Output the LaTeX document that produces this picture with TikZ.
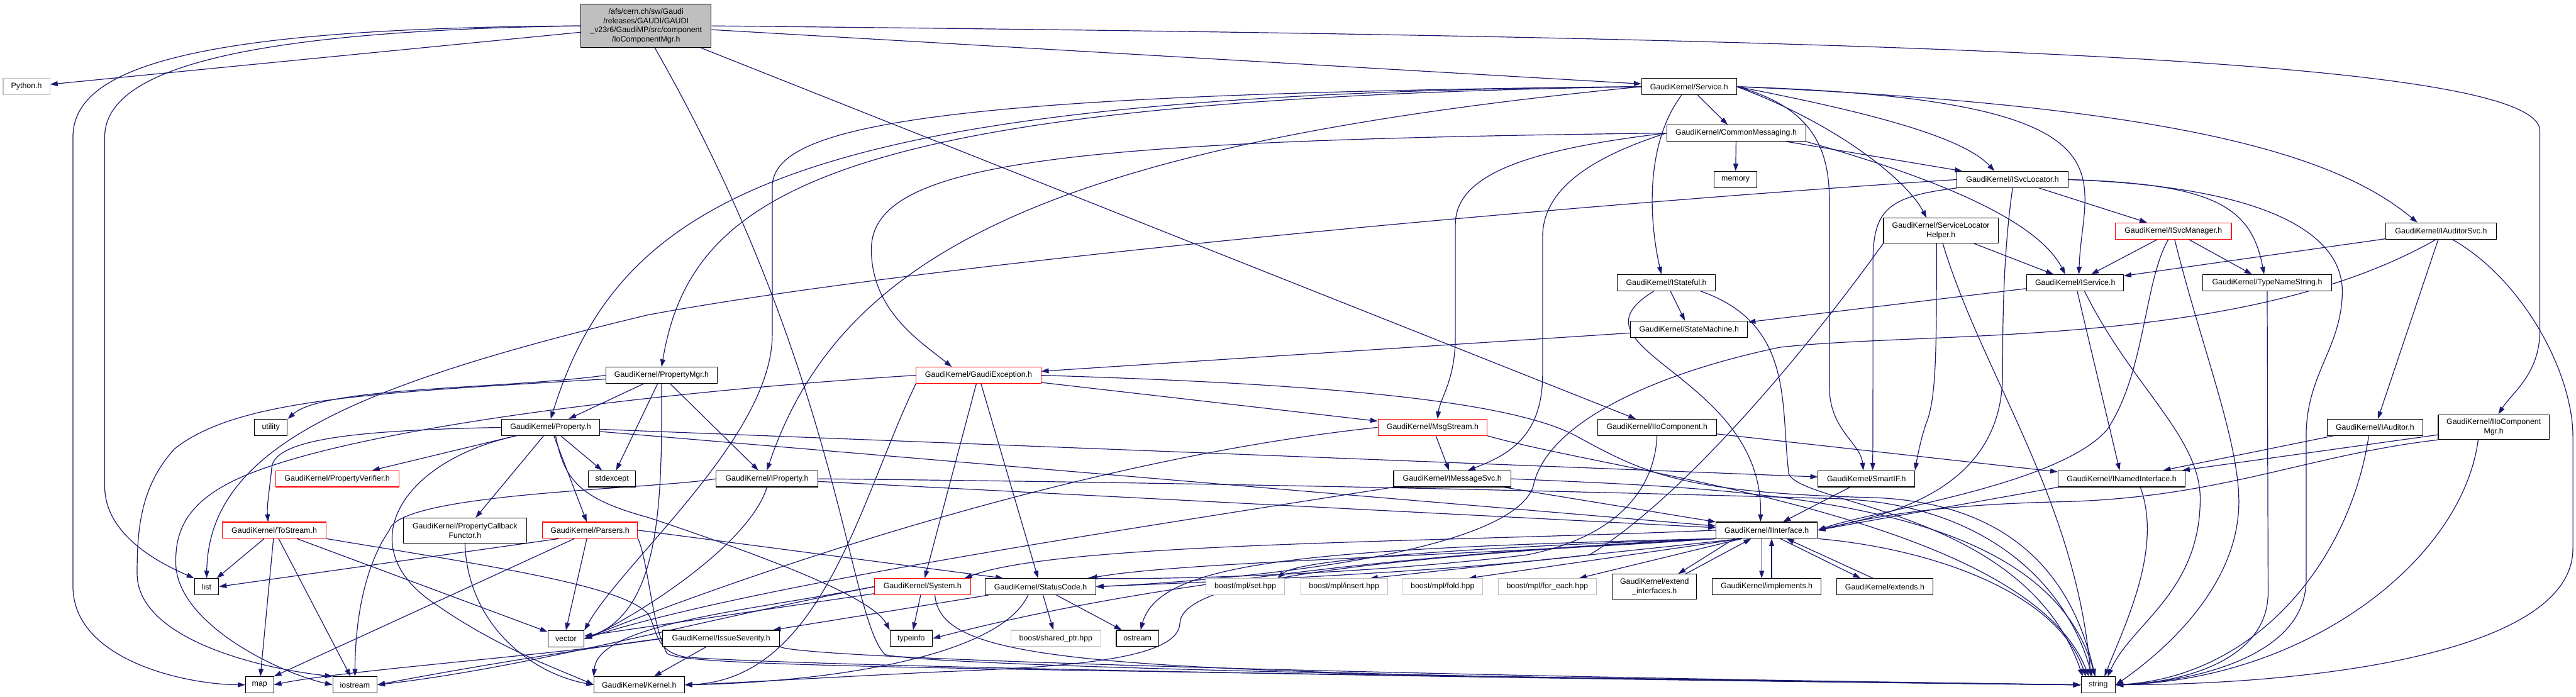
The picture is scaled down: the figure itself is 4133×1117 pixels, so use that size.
\documentclass[tikz,border=0pt]{standalone}
\usepackage{fontspec}
\setmainfont{Liberation Sans}
\usetikzlibrary{arrows.meta}
\definecolor{edgec}{HTML}{191970}
\definecolor{rootfill}{HTML}{BFBFBF}
\definecolor{grayb}{HTML}{BFBFBF}
\definecolor{redb}{HTML}{FF0000}
\pgfdeclarelayer{bg}
\pgfsetlayers{bg,main}
\begin{document}
\begin{tikzpicture}[x=1pt,y=-1pt,
  nd/.style={draw=black, line width=1.1pt, fill=white, inner sep=0pt, align=center,
    font=\fontsize{12.5}{14.7}\selectfont},
  rd/.style={nd, draw=redb},
  gd/.style={nd, draw=grayb},
  edg/.style={draw=edgec, line width=1.2pt, -{Triangle[length=12pt,width=8pt]}}]
\begin{pgfonlayer}{bg}
\fill[white] (0,0) rectangle (4133,1117);
\end{pgfonlayer}
\useasboundingbox (0,0) rectangle (4133,1117);
% ---------------- nodes ----------------
\node[nd, fill=rootfill, minimum width=209, minimum height=69] (R) at (1036.5,41.5) {/afs/cern.ch/sw/Gaudi\\/releases/GAUDI/GAUDI\\\_v23r6/GaudiMP/src/component\\/IoComponentMgr.h};
\node[gd, minimum width=75, minimum height=26] (Python) at (42.5,139) {Python.h};
\node[nd, minimum width=152, minimum height=26] (Svc) at (2710,139) {GaudiKernel/Service.h};
\node[nd, minimum width=223, minimum height=26] (CM) at (2785.5,213.5) {GaudiKernel/CommonMessaging.h};
\node[nd, minimum width=69, minimum height=26] (memory) at (2784.5,288) {memory};
\node[nd, minimum width=178, minimum height=26] (ISvcLocator) at (3229,288) {GaudiKernel/ISvcLocator.h};
\node[nd, minimum width=184, minimum height=40] (SLH) at (3114,370) {GaudiKernel/ServiceLocator\\Helper.h};
\node[rd, minimum width=186, minimum height=26] (ISvcManager) at (3487,370.5) {GaudiKernel/ISvcManager.h};
\node[nd, minimum width=177, minimum height=26] (IAuditorSvc) at (3916.5,370.5) {GaudiKernel/IAuditorSvc.h};
\node[nd, minimum width=155, minimum height=26] (IService) at (3329.5,453.5) {GaudiKernel/IService.h};
\node[nd, minimum width=207, minimum height=26] (TypeNameString) at (3637.5,453.5) {GaudiKernel/TypeNameString.h};
\node[nd, minimum width=157, minimum height=26] (IStateful) at (2673.5,453.5) {GaudiKernel/IStateful.h};
\node[nd, minimum width=188, minimum height=26] (StateMachine) at (2710,528) {GaudiKernel/StateMachine.h};
\node[nd, minimum width=179, minimum height=26] (PropertyMgr) at (1061.5,602) {GaudiKernel/PropertyMgr.h};
\node[rd, minimum width=200, minimum height=26] (GaudiException) at (1570,602) {GaudiKernel/GaudiException.h};
\node[nd, minimum width=53, minimum height=26] (utility) at (434.5,685.5) {utility};
\node[nd, minimum width=157, minimum height=26] (Property) at (883.5,685.5) {GaudiKernel/Property.h};
\node[rd, minimum width=175, minimum height=26] (MsgStream) at (2298.5,685.5) {GaudiKernel/MsgStream.h};
\node[nd, minimum width=191, minimum height=26] (IIoComp) at (2658.5,685.5) {GaudiKernel/IIoComponent.h};
\node[nd, minimum width=153, minimum height=26] (IAuditor) at (3810.5,685.5) {GaudiKernel/IAuditor.h};
\node[nd, minimum width=178, minimum height=40] (IIoCMgr) at (4001,685) {GaudiKernel/IIoComponent\\Mgr.h};
\node[rd, minimum width=198, minimum height=26] (PropertyVerifier) at (541,768) {GaudiKernel/PropertyVerifier.h};
\node[nd, minimum width=76, minimum height=26] (stdexcept) at (982,768) {stdexcept};
\node[nd, minimum width=163, minimum height=26] (IProperty) at (1230.5,768) {GaudiKernel/IProperty.h};
\node[nd, minimum width=188, minimum height=26] (IMessageSvc) at (2330,768) {GaudiKernel/IMessageSvc.h};
\node[nd, minimum width=155, minimum height=26] (SmartIF) at (2994.5,768) {GaudiKernel/SmartIF.h};
\node[nd, minimum width=204, minimum height=26] (INamedInterface) at (3404,768) {GaudiKernel/INamedInterface.h};
\node[rd, minimum width=166, minimum height=26] (ToStream) at (440,850.5) {GaudiKernel/ToStream.h};
\node[nd, minimum width=198, minimum height=40] (PCF) at (746,851) {GaudiKernel/PropertyCallback\\Functor.h};
\node[rd, minimum width=153, minimum height=26] (Parsers) at (946.5,850.5) {GaudiKernel/Parsers.h};
\node[nd, minimum width=163, minimum height=26] (IInterface) at (2834.5,850.5) {GaudiKernel/IInterface.h};
\node[nd, minimum width=39, minimum height=26] (list) at (331.5,941) {list};
\node[rd, minimum width=154, minimum height=26] (System) at (1480,941) {GaudiKernel/System.h};
\node[nd, minimum width=177, minimum height=26] (StatusCode) at (1669.5,941) {GaudiKernel/StatusCode.h};
\node[gd, minimum width=126, minimum height=26] (set) at (1998,941) {boost/mpl/set.hpp};
\node[gd, minimum width=139, minimum height=26] (insert) at (2156.5,941) {boost/mpl/insert.hpp};
\node[gd, minimum width=129, minimum height=26] (fold) at (2314.5,941) {boost/mpl/fold.hpp};
\node[gd, minimum width=157, minimum height=26] (foreach) at (2482.5,941) {boost/mpl/for\_each.hpp};
\node[nd, minimum width=135, minimum height=40] (extend) at (2654.5,941) {GaudiKernel/extend\\\_interfaces.h};
\node[nd, minimum width=175, minimum height=26] (implements) at (2834.5,941) {GaudiKernel/implements.h};
\node[nd, minimum width=154, minimum height=26] (extends) at (3024,941) {GaudiKernel/extends.h};
\node[nd, minimum width=58, minimum height=26] (vector) at (908,1024.5) {vector};
\node[nd, minimum width=188, minimum height=26] (IssueSeverity) at (1157,1024) {GaudiKernel/IssueSeverity.h};
\node[nd, minimum width=68, minimum height=26] (typeinfo) at (1462,1024) {typeinfo};
\node[gd, minimum width=144, minimum height=26] (sharedptr) at (1694,1024) {boost/shared\_ptr.hpp};
\node[nd, minimum width=68, minimum height=26] (ostream) at (1825,1024) {ostream};
\node[nd, minimum width=45, minimum height=26] (map) at (416.5,1098.5) {map};
\node[nd, minimum width=71, minimum height=26] (iostream) at (569.5,1098.5) {iostream};
\node[nd, minimum width=145, minimum height=26] (Kernel) at (1025.5,1098.5) {GaudiKernel/Kernel.h};
\node[nd, minimum width=55, minimum height=26] (string) at (3366.5,1098.5) {string};
% ---------------- edges ----------------
\begin{pgfonlayer}{bg}
% root
\draw[edg] (R) -- (Python);
\draw[edg] (R) -- (Svc);
\draw[edg] (R.east) .. controls (3000,60) and (4075,90) .. (4075,210) -- (4075,530) .. controls (4075,600) and (4030,630) .. (IIoCMgr.70);
\draw[edg] (R) -- (IIoComp);
\draw[edg] ([xshift=14]R.south) .. controls (1350,600) and (1360,990) .. (1420,1050) .. controls (1500,1070) and (2500,1090) .. (string.west);
\draw[edg] (R.west) .. controls (300,45) and (117,110) .. (117,220) -- (117,940) .. controls (117,1060) and (300,1098) .. (map.west);
\draw[edg] (R.west) .. controls (350,50) and (168,120) .. (168,220) -- (168,780) .. controls (168,860) and (260,905) .. (list.north west);
% Service.h
\draw[edg] (Svc) -- (CM);
\draw[edg] (Svc.west) .. controls (1300,150) and (1000,300) .. (Property.north);
\draw[edg] (Svc.west) .. controls (1350,160) and (1110,300) .. (PropertyMgr.north);
\draw[edg] (Svc.west) .. controls (1700,230) and (1350,400) .. (IProperty.north);
\draw[edg] (Svc.west) .. controls (1500,150) and (1239,200) .. (1239,300) -- (1239,537) .. controls (1239,700) and (1000,900) .. (vector.north east);
\draw[edg] ([xshift=-12]Svc.south) .. controls (2640,230) and (2645,350) .. ([xshift=-8]IStateful.north);
\draw[edg] (Svc.east) .. controls (3500,170) and (3750,250) .. ([xshift=-38]IAuditorSvc.north);
\draw[edg] (Svc.east) .. controls (3450,160) and (3340,280) .. ([xshift=6]IService.north);
\draw[edg] (Svc.east) .. controls (3000,180) and (3150,220) .. ([xshift=-29]ISvcLocator.north);
\draw[edg] (Svc.east) .. controls (2950,200) and (3060,290) .. ([xshift=-23]SLH.north);
\draw[edg] (Svc.east) .. controls (2900,170) and (2935,230) .. (2935,320) -- (2935,620) .. controls (2935,690) and (2985,710) .. ([xshift=-5]SmartIF.north);
% CommonMessaging.h
\draw[edg] (CM) -- (memory);
\draw[edg] (CM) -- (ISvcLocator);
\draw[edg] (CM.south east) .. controls (3050,270) and (3262,340) .. ([xshift=-16]IService.north);
\draw[edg] (CM.west) .. controls (1700,225) and (1398,260) .. (1398,400) .. controls (1398,500) and (1480,550) .. ([xshift=-43]GaudiException.north);
\draw[edg] (CM.west) .. controls (2450,240) and (2335,280) .. (2335,360) -- (2335,540) .. controls (2335,610) and (2310,640) .. ([xshift=8]MsgStream.north);
\draw[edg] (CM.west) .. controls (2560,250) and (2475,300) .. (2475,380) -- (2475,600) .. controls (2475,700) and (2420,730) .. ([xshift=25]IMessageSvc.north);
% ISvcLocator.h
\draw[edg] (ISvcLocator.west) .. controls (2500,330) and (1500,420) .. (1040,505) .. controls (560,620) and (335,720) .. (list.north);
\draw[edg] (ISvcLocator.south west) .. controls (3030,315) and (3005,335) .. (3005,420) .. controls (3005,600) and (3005,700) .. ([xshift=10]SmartIF.north);
\draw[edg] (ISvcLocator.south) .. controls (3215,400) and (3213,500) .. (3213,600) .. controls (3213,800) and (3000,830) .. (IInterface.east);
\draw[edg] (ISvcLocator) -- (ISvcManager);
\draw[edg] (ISvcLocator.east) .. controls (3550,295) and (3612,330) .. ([xshift=-5]TypeNameString.north);
\draw[edg] (ISvcLocator.east) .. controls (3650,300) and (3760,380) .. (3758,470) .. controls (3756,560) and (3700,600) .. (3700,700) -- (3700,930) .. controls (3700,1060) and (3500,1095) .. (string.east);
% ServiceLocatorHelper.h
\draw[edg] (SLH) -- (IService);
\draw[edg] ([xshift=3]SLH.south) .. controls (3180,600) and (3330,800) .. ([xshift=-12]string.north);
\draw[edg] (SLH.south west) .. controls (2900,560) and (2700,800) .. (2550,890) .. controls (2300,920) and (1900,935) .. (StatusCode.east);
\draw[edg] ([xshift=-7]SLH.south) .. controls (3107,560) and (3107,640) .. (3090,680) .. controls (3080,710) and (3075,740) .. (SmartIF.north east);
% ISvcManager.h
\draw[edg] (ISvcManager) -- (IService);
\draw[edg] (ISvcManager) -- (TypeNameString);
\draw[edg] ([xshift=2]ISvcManager.south) .. controls (3530,550) and (3590,700) .. (3592,800) .. controls (3595,950) and (3450,1060) .. (string.east);
\draw[edg] ([xshift=-8]ISvcManager.south) .. controls (3440,450) and (3442,600) .. (3380,690) .. controls (3300,780) and (3000,820) .. (IInterface.east);
% IAuditorSvc.h
\draw[edg] (IAuditorSvc) -- (IService);
\draw[edg] (IAuditorSvc) -- (IAuditor);
\draw[edg] ([xshift=18]IAuditorSvc.south) .. controls (4050,450) and (4128,600) .. (4128,700) -- (4128,880) .. controls (4128,1050) and (3700,1098) .. (string.east);
\draw[edg] ([xshift=-8]IAuditorSvc.south) .. controls (3600,560) and (3100,530) .. (2856,557) .. controls (2650,600) and (2480,680) .. (2460,780) .. controls (2420,900) and (1900,935) .. (StatusCode.east);
% IService.h
\draw[edg] (IService) -- (StateMachine);
\draw[edg] (IService) -- (INamedInterface);
\draw[edg] ([xshift=15]IService.south) .. controls (3420,620) and (3530,700) .. (3530,800) .. controls (3530,950) and (3420,1000) .. ([xshift=15]string.north);
\draw[edg] (TypeNameString.south) -- (3639,950) .. controls (3639,1060) and (3500,1095) .. (string.east);
% IStateful.h
\draw[edg] (IStateful) -- (StateMachine);
\draw[edg] ([xshift=-20]IStateful.south) .. controls (2500,560) and (2830,600) .. ([xshift=-10]IInterface.north);
\draw[edg] ([xshift=55]IStateful.south) .. controls (2880,520) and (2856,650) .. (2870,760) .. controls (2890,810) and (3250,820) .. ([xshift=-25]string.north);
\draw[edg] (StateMachine) -- (GaudiException);
% IAuditor.h, IIoComponentMgr.h, IIoComponent.h
\draw[edg] (IAuditor) -- (INamedInterface);
\draw[edg] ([xshift=-10]IAuditor.south) .. controls (3770,900) and (3620,1085) .. (string.east);
\draw[edg] (IIoCMgr) -- (INamedInterface);
\draw[edg] (IIoCMgr.south west) .. controls (3700,730) and (3560,800) .. (3300,805) .. controls (3100,810) and (3000,830) .. (IInterface.east);
\draw[edg] ([xshift=-25]IIoCMgr.south) .. controls (3950,900) and (3700,1090) .. (string.east);
\draw[edg] (IIoComp) -- (INamedInterface);
\draw[edg] (IIoComp.south) .. controls (2655,780) and (2600,860) .. (2450,890) .. controls (2200,920) and (1900,930) .. ([xshift=-15]StatusCode.north east);
% PropertyMgr.h
\draw[edg] (PropertyMgr) -- (Property);
\draw[edg] (PropertyMgr) -- (IProperty);
\draw[edg] (PropertyMgr.west) .. controls (800,625) and (520,620) .. (utility.north east);
\draw[edg] (PropertyMgr.south) .. controls (1062,800) and (1062,980) .. (vector.east);
\draw[edg] (PropertyMgr) -- (stdexcept);
\draw[edg] ([yshift=-6]PropertyMgr.west) .. controls (600,630) and (380,640) .. (280,720) .. controls (225,780) and (220,850) .. (220,920) .. controls (220,1020) and (400,1070) .. (iostream.north west);
% Property.h
\draw[edg] (Property) -- (PropertyVerifier);
\draw[edg] (Property.west) .. controls (600,690) and (440,700) .. (436,750) .. controls (432,790) and (428,810) .. ([xshift=-10]ToStream.north);
\draw[edg] (Property) -- (PCF);
\draw[edg] (Property) -- (Parsers);
\draw[edg] (Property) -- (stdexcept);
\draw[edg] ([xshift=8]Property.south) .. controls (905,770) and (930,800) .. (1040,830) .. controls (1250,900) and (1400,960) .. (typeinfo.north west);
\draw[edg] (Property) -- (SmartIF);
\draw[edg] (Property) -- (IInterface);
\draw[edg] ([xshift=-55]Property.south) .. controls (640,740) and (560,880) .. (700,970) .. controls (800,1040) and (900,1075) .. (Kernel.west);
% GaudiException.h
\draw[edg] (GaudiException.west) .. controls (1100,625) and (600,680) .. (400,760) .. controls (300,800) and (282,850) .. (282,900) .. controls (280,1000) and (450,1080) .. (iostream.west);
\draw[edg] (GaudiException) -- (MsgStream);
\draw[edg] (GaudiException) -- (System);
\draw[edg] (GaudiException) -- (StatusCode);
\draw[edg] (GaudiException.east) .. controls (2100,615) and (2420,640) .. (2530,700) .. controls (2640,760) and (2700,790) .. (3000,798) .. controls (3250,805) and (3330,950) .. ([xshift=-5]string.north);
\draw[edg] (GaudiException.south west) .. controls (1380,800) and (1320,1090) .. (Kernel.east);
% IProperty.h
\draw[edg] (IProperty) -- (IInterface);
\draw[edg] (IProperty.west) .. controls (1050,785) and (640,790) .. (625,850) .. controls (590,900) and (570,980) .. (iostream.north);
\draw[edg] (IProperty.east) .. controls (2000,775) and (2600,790) .. (2950,800) .. controls (3200,810) and (3320,950) .. ([xshift=-10]string.north);
\draw[edg] (IProperty.south) .. controls (1200,880) and (1000,1000) .. (vector.east);
% MsgStream.h, IMessageSvc.h
\draw[edg] (MsgStream) -- (IMessageSvc);
\draw[edg] (MsgStream.south east) .. controls (2600,760) and (3250,830) .. ([xshift=-15]string.north);
\draw[edg] (MsgStream.west) .. controls (1700,740) and (1150,940) .. (vector.east);
\draw[edg] (IMessageSvc) -- (IInterface);
\draw[edg] (IMessageSvc.east) .. controls (2800,785) and (3280,795) .. ([xshift=-5]string.north);
\draw[edg] (IMessageSvc.south west) .. controls (1800,850) and (1200,940) .. (vector.east);
% SmartIF.h, INamedInterface.h
\draw[edg] (SmartIF) -- (IInterface);
\draw[edg] (INamedInterface.south west) .. controls (3200,800) and (3000,835) .. (IInterface.east);
\draw[edg] ([xshift=30]INamedInterface.south) .. controls (3470,880) and (3410,1000) .. ([xshift=10]string.north);
% IInterface.h
\draw[edg] (IInterface.west) .. controls (2300,870) and (1700,870) .. ([xshift=-10]System.north east);
\draw[edg] (IInterface.south west) .. controls (2400,890) and (1900,900) .. ([xshift=-10]StatusCode.north east);
\draw[edg] (IInterface.south west) .. controls (2100,900) and (1895,940) .. (1893,1000) .. controls (1890,1060) and (1700,1070) .. (1500,1078) .. controls (1300,1088) and (1150,1097) .. (Kernel.east);
\draw[edg] (IInterface.south west) .. controls (2000,900) and (1650,985) .. (typeinfo.east);
\draw[edg] (IInterface.south west) .. controls (2100,880) and (1860,900) .. ([xshift=5]ostream.north);
\draw[edg] (IInterface.south west) .. controls (2300,880) and (2080,900) .. ([xshift=-12]set.north east);
\draw[edg] ([xshift=-40]IInterface.south) -- ([xshift=42]insert.north);
\draw[edg] ([xshift=-40]IInterface.south) -- ([xshift=42]fold.north);
\draw[edg] ([xshift=-40]IInterface.south) -- ([xshift=51]foreach.north);
\draw[edg] ([xshift=-52]IInterface.south) -- ([xshift=38]extend.north);
\draw[edg] ([xshift=50]extend.north) -- ([xshift=-25]IInterface.south);
\draw[edg] ([xshift=-8]IInterface.south) -- ([xshift=-8]implements.north);
\draw[edg] ([xshift=8]implements.north) -- ([xshift=8]IInterface.south);
\draw[edg] ([xshift=22]IInterface.south) -- ([xshift=-39]extends.north);
\draw[edg] ([xshift=-19]extends.north) -- ([xshift=32]IInterface.south);
\draw[edg] (IInterface.south east) .. controls (3100,880) and (3300,950) .. ([xshift=-20]string.north);
% ToStream.h
\draw[edg] (ToStream) -- (list);
\draw[edg] (ToStream) -- (map);
\draw[edg] (ToStream) -- (iostream);
\draw[edg] (ToStream) -- (vector);
\draw[edg] (ToStream.south east) .. controls (800,910) and (1000,940) .. (1040,985) .. controls (1055,1010) and (1050,1045) .. (1100,1054) .. controls (1300,1070) and (2500,1090) .. (string.west);
% Parsers.h
\draw[edg] ([xshift=-50]Parsers.south) -- (list.east);
\draw[edg] ([xshift=-25]Parsers.south) -- (map.north east);
\draw[edg] ([xshift=-5]Parsers.south) -- (vector.north);
\draw[edg] (Parsers.east) -- ([xshift=-60]StatusCode.north);
\draw[edg] (Parsers.south east) .. controls (1040,900) and (1045,1000) .. (1070,1048) .. controls (1100,1070) and (1500,1072) .. (string.west);
% PropertyCallbackFunctor.h
\draw[edg] (PCF.south) .. controls (750,1000) and (850,1080) .. (Kernel.west);
% System.h
\draw[edg] (System) -- (typeinfo);
\draw[edg] (System.west) .. controls (1200,980) and (960,1000) .. (Kernel.north west);
\draw[edg] (System) -- (vector);
\draw[edg] (System.west) .. controls (1100,1000) and (850,1070) .. (iostream.east);
\draw[edg] ([xshift=20]System.south) .. controls (1510,1075) and (1800,1080) .. (string.west);
% StatusCode.h
\draw[edg] (StatusCode) -- (IssueSeverity);
\draw[edg] (StatusCode) -- (sharedptr);
\draw[edg] (StatusCode) -- (ostream);
\draw[edg] ([xshift=-20]StatusCode.south) .. controls (1600,1060) and (1300,1095) .. (Kernel.east);
% IssueSeverity.h
\draw[edg] (IssueSeverity) -- (Kernel);
\draw[edg] (IssueSeverity.west) .. controls (900,1050) and (550,1075) .. (map.east);
\draw[edg] (IssueSeverity.west) .. controls (900,1045) and (700,1080) .. (iostream.east);
\draw[edg] (IssueSeverity.south east) .. controls (1300,1060) and (2500,1088) .. (string.west);
\end{pgfonlayer}
\end{tikzpicture}
\end{document}
